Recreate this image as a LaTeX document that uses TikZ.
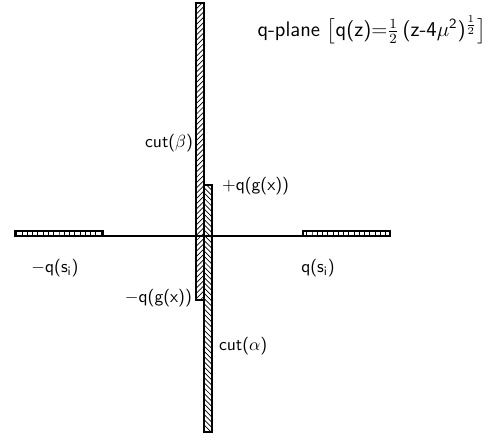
\documentclass[tikz,border=0pt]{standalone}
\usepackage{amsmath,amssymb}
\usepackage{tikz}
\usetikzlibrary{patterns,positioning}

\begin{document}
\begin{tikzpicture}[
    x=0.02cm, y=0.02cm,
    lbl/.style={font=\sffamily\normalsize, inner sep=1pt},
    cutstrip/.style={draw, line width=0.9pt},
    axisline/.style={line width=0.8pt},
    comb/.style={draw, line width=0.6pt, pattern=vertical lines}
]
    \useasboundingbox (-204,-201) rectangle (287,236);

    % Real axis with the two hatched cuts
    \draw[axisline] (-189,0) -- (186,0);
    \draw[comb] (-189,0) rectangle (-101,5);
    \draw[comb] (99,0) rectangle (186,5);

    % Cut (beta): upper strip
    \draw[cutstrip, pattern=north east lines] (-8,233) rectangle (0,-64);
    % Cut (alpha): lower strip
    \draw[cutstrip, pattern=north west lines] (0,51) rectangle (8,-196);
    \draw[axisline] (-8,0) -- (8,0);

    % Labels
    \node[lbl, font=\sffamily\large, anchor=east] (title) at (284,206) {q-plane $\bigl[$q(z)=$\frac{1}{2}$\,(z-4$\mu^{\mathsf{2}}$)$^{\frac{1}{2}}\bigr]$};
    \node[lbl, anchor=east] (cutbeta) at (-9,93) {cut($\beta$)};
    \node[lbl, anchor=west] (plusq) at (16,50) {+q(g(x))};
    \node[lbl, anchor=east] (minusq) at (-10,-62) {$-$q(g(x))};
    \node[lbl] (leftsi) at (-149,-32) {$-$q(s$_{\mathsf{i}}$)};
    \node[lbl] (rightsi) at (114,-32) {q(s$_{\mathsf{i}}$)};
    \node[lbl, anchor=west] (cutalpha) at (13,-110) {cut($\alpha$)};
\end{tikzpicture}
\end{document}
